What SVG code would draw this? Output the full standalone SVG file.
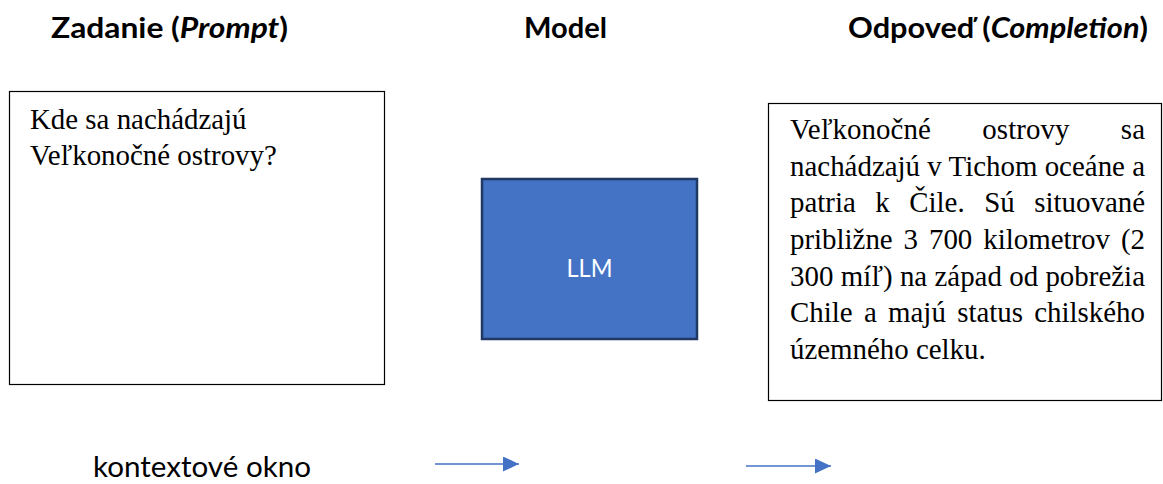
<svg xmlns="http://www.w3.org/2000/svg" width="1163" height="484" viewBox="0 0 1163 484">
  <style>
    .hdr { font-family: Lato, "Open Sans", "Liberation Sans", sans-serif; font-weight: bold; font-size: 29px; fill: #000; }
    .lbl { font-family: Lato, "Open Sans", "Liberation Sans", sans-serif; font-size: 28px; fill: #000; }
    .txt { font-family: "Liberation Serif", "DejaVu Serif", serif; font-size: 28.9px; fill: #000; }
    .box { fill: #fff; stroke: #000; stroke-width: 1.2; }
    .llm { fill: #4472c4; stroke: #203864; stroke-width: 2.5; }
    .llm-text { font-family: Lato, "Open Sans", "Liberation Sans", sans-serif; font-size: 25px; fill: #fff; }
    .flow { stroke: #4472c4; stroke-width: 1.5; fill: none; marker-end: url(#head); }
  </style>
  <defs>
    <marker id="head" viewBox="0 0 16 15" refX="16" refY="7.5" markerWidth="16" markerHeight="15" markerUnits="userSpaceOnUse" orient="auto">
      <path d="M0,0 L16,7.5 L0,15 z" fill="#4472c4"/>
    </marker>
  </defs>

  <!-- column headings -->
  <g id="headings">
    <text class="hdr" x="51" y="38" textLength="237" lengthAdjust="spacingAndGlyphs">Zadanie (<tspan font-style="italic">Prompt</tspan>)</text>
    <text class="hdr" x="524" y="38" textLength="83" lengthAdjust="spacingAndGlyphs">Model</text>
    <text class="hdr" x="848" y="38" textLength="300" lengthAdjust="spacingAndGlyphs">Odpoveď (<tspan font-style="italic">Completion</tspan>)</text>
  </g>

  <!-- prompt box -->
  <g id="prompt">
    <rect class="box" x="9.5" y="91.5" width="375" height="293"/>
    <text class="txt" x="30" y="129">Kde sa nachádzajú</text>
    <text class="txt" x="30" y="165">Veľkonočné ostrovy?</text>
  </g>

  <!-- model -->
  <g id="model">
    <rect class="llm" x="482" y="179" width="215" height="160"/>
    <text class="llm-text" x="589.5" y="277" text-anchor="middle" textLength="46" lengthAdjust="spacingAndGlyphs">LLM</text>
  </g>

  <!-- completion box, justified text -->
  <g id="completion">
    <rect class="box" x="768.5" y="103.5" width="393" height="297"/>
    <text class="txt" x="790" y="139" word-spacing="44" textLength="355" lengthAdjust="spacing">Veľkonočné ostrovy sa</text>
    <text class="txt" x="790" y="176" textLength="355" lengthAdjust="spacing">nachádzajú v Tichom oceáne a</text>
    <text class="txt" x="790" y="212" word-spacing="12.3" textLength="355" lengthAdjust="spacing">patria k Čile. Sú situované</text>
    <text class="txt" x="790" y="249" word-spacing="3.7" textLength="355" lengthAdjust="spacing">približne 3 700 kilometrov (2</text>
    <text class="txt" x="790" y="286" textLength="355" lengthAdjust="spacing">300 míľ) na západ od pobrežia</text>
    <text class="txt" x="790" y="322" word-spacing="4.1" textLength="355" lengthAdjust="spacing">Chile a majú status chilského</text>
    <text class="txt" x="790" y="359">územného celku.</text>
  </g>

  <!-- footer label -->
  <g id="context-label">
    <text class="lbl" x="93" y="477" textLength="218" lengthAdjust="spacingAndGlyphs">kontextové okno</text>
  </g>

  <!-- connectors -->
  <g id="connectors">
    <line class="flow" x1="435" y1="464" x2="519" y2="464"/>
    <line class="flow" x1="746" y1="466" x2="831" y2="466"/>
  </g>
</svg>
